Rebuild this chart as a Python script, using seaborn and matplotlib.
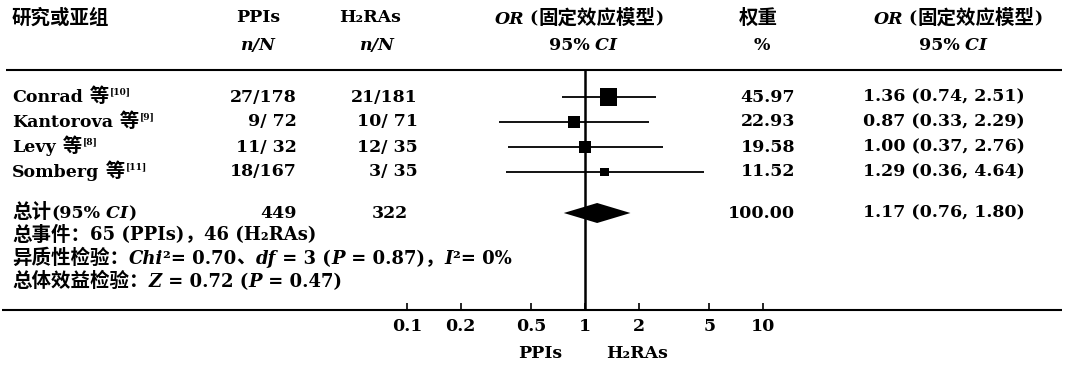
import numpy as np
import matplotlib
matplotlib.use("Agg")
import matplotlib.pyplot as plt
from matplotlib.offsetbox import TextArea, HPacker, AnnotationBbox
from matplotlib.ticker import NullLocator, FixedLocator, FixedFormatter
import seaborn as sns

# ---------------- data ----------------
study_names = ["Conrad", "Kantorova", "Levy", "Somberg"]
refs = ["[10]", "[9]", "[8]", "[11]"]
ppi_events = [27, 9, 11, 18]
ppi_total = [178, 72, 32, 167]
h2_events = [21, 10, 12, 3]
h2_total = [181, 71, 35, 35]
weights = [45.97, 22.93, 19.58, 11.52]
or_est = [1.36, 0.87, 1.00, 1.29]
or_lo = [0.74, 0.33, 0.37, 0.36]
or_hi = [2.51, 2.29, 2.76, 4.64]
total_ppi = 449
total_h2 = 322
total_weight = 100.00
total_or = [0.76, 1.17, 1.80]  # lo, est, hi
events_ppi = 65
events_h2 = 46
chi2, df_het, p_het, i2 = 0.70, 3, 0.87, 0
z_val, p_z = 0.72, 0.47
tick_values = [0.1, 0.2, 0.5, 1, 2, 5, 10]
tick_labels = ["0.1", "0.2", "0.5", "1", "2", "5", "10"]

# ---------------- style ----------------
sns.set_theme(style="white")
LAT = ["DejaVu Serif", "Noto Sans CJK SC"]
CJK = ["Noto Sans CJK SC", "DejaVu Serif"]
plt.rcParams["font.family"] = LAT
FS = 12.5
FS_C = 14

W, H = 1071, 367
fig = plt.figure(figsize=(W / 100, H / 100), dpi=100)
fig.patch.set_facecolor("white")

tx = fig.add_axes([0, 0, 1, 1])
tx.set_xlim(0, W)
tx.set_ylim(H, 0)
tx.axis("off")


def props(kind, fs=FS):
    if kind == "r":
        return dict(family=LAT, size=fs, style="normal", weight="bold")
    if kind == "i":
        return dict(family=LAT, size=fs, style="italic", weight="bold")
    if kind == "c":
        return dict(family=CJK, size=FS_C, style="normal", weight="bold")
    # CJK glyphs preceded by a Latin-width space
    return dict(family=LAT, size=FS_C, style="normal", weight="bold")


def rich(x, y, segs, ha=0.0, fs=FS):
    kids = [TextArea(s, textprops=dict(color="black", **props(k, fs))) for s, k in segs]
    box = HPacker(children=kids, align="baseline", pad=0, sep=0)
    ab = AnnotationBbox(box, (x, y), xycoords="data", frameon=False,
                        box_alignment=(ha, 0.5), pad=0, annotation_clip=False)
    tx.add_artist(ab)
    return ab


def num(x, y, s, ha="right"):
    return tx.text(x, y, s, ha=ha, va="center", color="black", **props("r"))


# layout
ROW0, DY = 97, 25
row_y = [ROW0 + i * DY for i in range(len(study_names))]
Y_TOT = 213
Y_EV, Y_HET, Y_Z = 235, 258, 281
Y_RULE, Y_BASE = 70, 310
FS_FOOT = 13

# headers
rich(12, 18, [("研究或亚组", "c")])
rich(258, 18, [("PPIs", "r")], ha=0.5)
rich(370, 18, [("H₂RAs", "r")], ha=0.5)
rich(579, 18, [("OR", "i"), (" (", "r"), ("固定效应模型", "c"), (")", "r")], ha=0.5)
rich(758, 18, [("权重", "c")], ha=0.5)
rich(958, 18, [("OR", "i"), (" (", "r"), ("固定效应模型", "c"), (")", "r")], ha=0.5)
rich(257, 46, [("n/N", "i")], ha=0.5)
rich(376, 46, [("n/N", "i")], ha=0.5)
rich(583, 46, [("95%", "r"), (" CI", "i")], ha=0.5)
rich(762, 46, [("%", "r")], ha=0.5)
rich(953, 46, [("95%", "r"), (" CI", "i")], ha=0.5)

# rules
tx.plot([6, 1062], [Y_RULE, Y_RULE], color="black", lw=1.5, solid_capstyle="butt")
tx.plot([2, 1062], [Y_BASE, Y_BASE], color="black", lw=1.5, solid_capstyle="butt")

# study rows
for i, y in enumerate(row_y):
    ab = rich(12, y, [(study_names[i], "r"), (" 等", "cl")])
    tx.annotate(refs[i], xy=(1, 1), xycoords=ab, xytext=(0.5, 0), textcoords="offset points",
                ha="left", va="top", fontsize=6.5, family=LAT, weight="bold", color="black")
    num(297, y, f"{ppi_events[i]}/{ppi_total[i]:>3}")
    num(418, y, f"{h2_events[i]}/{h2_total[i]:>3}")
    num(795, y, f"{weights[i]:.2f}")
    num(863, y, f"{or_est[i]:.2f} ({or_lo[i]:.2f}, {or_hi[i]:.2f})", ha="left")

# total row
rich(12, Y_TOT, [("总计", "c"), ("(95%", "r"), (" CI", "i"), (")", "r")])
num(297, Y_TOT, f"{total_ppi}")
num(408, Y_TOT, f"{total_h2}")
num(795, Y_TOT, f"{total_weight:.2f}")
num(863, Y_TOT, f"{total_or[1]:.2f} ({total_or[0]:.2f}, {total_or[2]:.2f})", ha="left")

rich(12, Y_EV, [("总事件：", "c"), (f"{events_ppi} (PPIs)", "r"), ("，", "c"),
                (f"{events_h2} (H₂RAs)", "r")], fs=FS_FOOT)
rich(12, Y_HET, [("异质性检验：", "c"), ("Chi", "i"), (f"²= {chi2:.2f}", "r"), ("、", "c"),
                 ("df", "i"), (f" = {df_het} (", "r"), ("P", "i"),
                 (f" = {p_het:.2f})", "r"), ("，", "c"), ("I", "i"), (f"²= {i2}%", "r")],
     fs=FS_FOOT)
rich(12, Y_Z, [("总体效益检验：", "c"), ("Z", "i"), (f" = {z_val:.2f} (", "r"),
               ("P", "i"), (f" = {p_z:.2f})", "r")], fs=FS_FOOT)

# ---------------- forest axes ----------------
x0, x1 = 407, 763
fx = fig.add_axes([x0 / W, (H - Y_BASE) / H, (x1 - x0) / W, (Y_BASE - Y_RULE) / H])
fx.set_xscale("log")
fx.set_xlim(0.1, 10)
fx.set_ylim(Y_BASE, Y_RULE)
fx.patch.set_alpha(0)
for sp in fx.spines.values():
    sp.set_visible(False)
fx.set_yticks([])
fx.xaxis.set_major_locator(FixedLocator(tick_values))
fx.xaxis.set_major_formatter(FixedFormatter(tick_labels))
fx.xaxis.set_minor_locator(NullLocator())
fx.tick_params(axis="x", direction="in", length=5, width=1.2, pad=6, labelsize=FS,
               colors="black", bottom=True)
for lab in fx.get_xticklabels():
    lab.set_family(LAT)
    lab.set_weight("bold")

fx.axvline(1, color="black", lw=1.8)
fx.hlines(row_y, or_lo, or_hi, color="black", lw=1.3)
sns.scatterplot(x=or_est, y=row_y, size=weights, sizes=(0, 150), size_norm=(0, max(weights)),
                marker="s", color="black", edgecolor="black", linewidth=0, legend=False, ax=fx,
                zorder=3)
# diamond for pooled estimate
lo, est, hi = total_or
fx.fill([lo, est, hi, est], [Y_TOT, Y_TOT - 10, Y_TOT, Y_TOT + 10], color="black", lw=0, zorder=3)
fx.set_xlabel("")
fx.set_ylabel("")

rich(540, 354, [("PPIs", "r")], ha=0.5)
rich(637, 354, [("H₂RAs", "r")], ha=0.5)

fig.savefig("out.png", dpi=100, facecolor="white")
